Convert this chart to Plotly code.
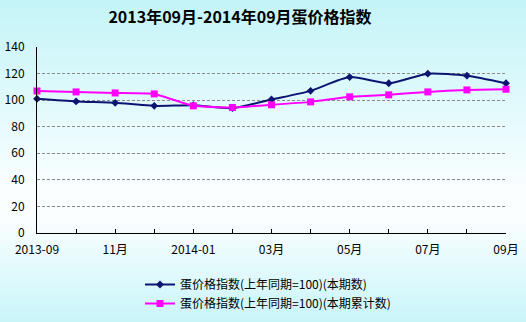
import plotly.graph_objects as go

months = ["2013-09", "2013-10", "2013-11", "2013-12", "2014-01", "2014-02", "2014-03",
          "2014-04", "2014-05", "2014-06", "2014-07", "2014-08", "2014-09"]
tick_labels = ["2013-09", "", "11月", "", "2014-01", "", "03月", "", "05月", "", "07月", "", "09月"]
current = [101.0, 99.0, 98.0, 95.7, 96.2, 94.0, 100.5, 107.0, 117.4, 112.7, 119.9, 118.4, 112.7]
cumulative = [106.9, 106.2, 105.4, 104.7, 95.7, 94.5, 96.5, 98.7, 102.5, 104.0, 106.2, 107.7, 108.2]
name_current = "蛋价格指数(上年同期=100)(本期数)"
name_cum = "蛋价格指数(上年同期=100)(本期累计数)"
title = "2013年09月-2014年09月蛋价格指数"

W, H = 526, 322
L, R, T, B = 37, 20, 47, 89
pw, ph = W - L - R, H - T - B

xs = list(range(len(months)))
FONT = "Noto Sans CJK SC"

fig = go.Figure()
fig.add_trace(go.Scatter(x=xs, y=current, name=name_current, mode="lines+markers",
                         line=dict(color="#0B1470", width=2, shape="spline", smoothing=0.6),
                         marker=dict(symbol="diamond", size=6, color="#0B1470"),
                         cliponaxis=False))
fig.add_trace(go.Scatter(x=xs, y=cumulative, name=name_cum, mode="lines+markers",
                         line=dict(color="#FF00FF", width=2, shape="spline", smoothing=0.4),
                         marker=dict(symbol="square", size=7, color="#FF00FF"),
                         cliponaxis=False))

# vertical background gradient as horizontal bands
def lerp(a, b, t):
    return tuple(int(round(a[i] + (b[i] - a[i]) * t)) for i in range(3))

stops = [(0, (196, 244, 248)), (190, (250, 254, 255)), (220, (250, 254, 255)), (322, (200, 245, 249))]
shapes = []
step = 2
for py in range(0, H, step):
    for (y0, c0), (y1, c1) in zip(stops, stops[1:]):
        if y0 <= py <= y1:
            c = lerp(c0, c1, (py - y0) / (y1 - y0) if y1 > y0 else 0)
            break
    shapes.append(dict(type="rect", xref="paper", yref="paper",
                       x0=-L / pw, x1=(W - L) / pw,
                       y0=(H - B - py - step) / ph, y1=(H - B - py) / ph,
                       fillcolor="rgb(%d,%d,%d)" % c, line=dict(width=0), layer="below"))

fig.update_layout(
    width=W, height=H,
    margin=dict(l=L, r=R, t=T, b=B, autoexpand=False),
    paper_bgcolor="rgb(220,248,250)",
    plot_bgcolor="rgba(0,0,0,0)",
    shapes=shapes,
    font=dict(family=FONT, size=12, color="#000000"),
    title=dict(text="<b>" + title + "</b>", x=240 / W, xanchor="center", y=1 - 17 / H,
               yanchor="middle", font=dict(family=FONT, size=16, color="#000000")),
    showlegend=True,
    legend=dict(x=(140 - L) / pw, xanchor="left", y=(H - B - 270) / ph, yanchor="top",
                bgcolor="rgba(0,0,0,0)", font=dict(family=FONT, size=12),
                itemwidth=30, tracegroupgap=0),
    xaxis=dict(range=[0, 12], tickvals=xs, ticktext=tick_labels, showgrid=False,
               showline=True, linecolor="#000000", linewidth=1, ticks="inside",
               ticklen=4, tickcolor="#000000", zeroline=False, fixedrange=True,
               ticklabelstandoff=6, automargin=False,
               tickfont=dict(family=FONT, size=12)),
    yaxis=dict(range=[0, 140], dtick=20, showgrid=True, gridcolor="#8A8A8A",
               griddash="3px,2px", gridwidth=1, showline=True, linecolor="#000000",
               linewidth=1, ticks="", zeroline=False, fixedrange=True,
               ticklabelstandoff=9, automargin=False,
               tickfont=dict(family=FONT, size=12)),
)

fig.write_html("out.html")
